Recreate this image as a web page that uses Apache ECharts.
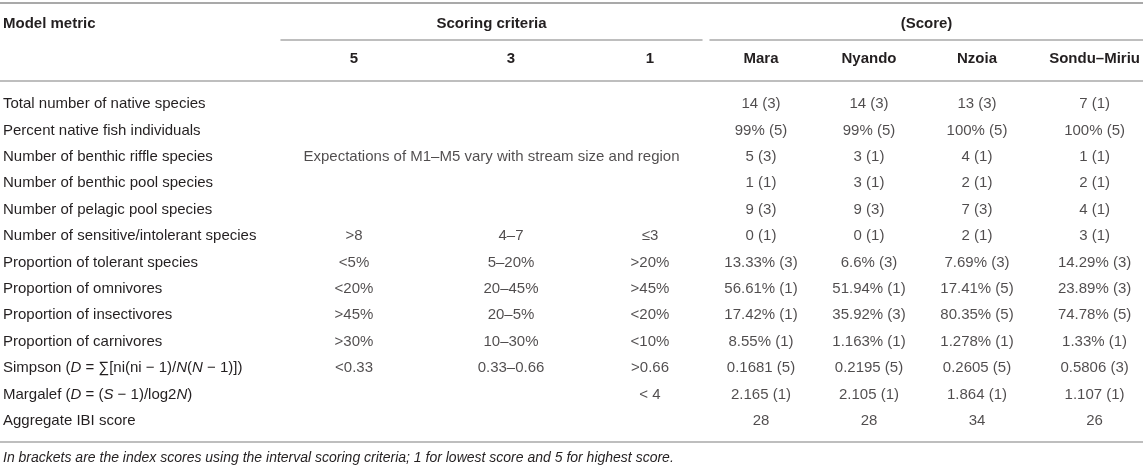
<!DOCTYPE html>
<html>
<head>
<meta charset="utf-8">
<script src="https://cdn.jsdelivr.net/npm/echarts@6/dist/echarts.min.js"></script>
<style>
  html, body { margin: 0; padding: 0; background: #fff; }
  #main { width: 1143px; height: 468px; }
</style>
</head>
<body>
<div id="main"></div>
<script>
// 表格数据
var rows = [
    'Total number of native species',
    'Percent native fish individuals',
    'Number of benthic riffle species',
    'Number of benthic pool species',
    'Number of pelagic pool species',
    'Number of sensitive/intolerant species',
    'Proportion of tolerant species',
    'Proportion of omnivores',
    'Proportion of insectivores',
    'Proportion of carnivores',
    'Simpson ({i|D} = ∑[ni(ni − 1)/{i|N}({i|N} − 1)])',
    'Margalef ({i|D} = ({i|S} − 1)/log2{i|N})',
    'Aggregate IBI score'
];
var critHeads = ['5', '3', '1'];
var crit5 = ['', '', '', '', '', '>8', '<5%', '<20%', '>45%', '>30%', '<0.33', '', ''];
var crit3 = ['', '', '', '', '', '4–7', '5–20%', '20–45%', '20–5%', '10–30%', '0.33–0.66', '', ''];
var crit1 = ['', '', '', '', '', '≤3', '>20%', '>45%', '<20%', '<10%', '>0.66', '< 4', ''];
var riverHeads = ['Mara', 'Nyando', 'Nzoia', 'Sondu–Miriu'];
var mara   = ['14 (3)', '99% (5)', '5 (3)', '1 (1)', '9 (3)', '0 (1)', '13.33% (3)', '56.61% (1)', '17.42% (1)', '8.55% (1)', '0.1681 (5)', '2.165 (1)', '28'];
var nyando = ['14 (3)', '99% (5)', '3 (1)', '3 (1)', '9 (3)', '0 (1)', '6.6% (3)', '51.94% (1)', '35.92% (3)', '1.163% (1)', '0.2195 (5)', '2.105 (1)', '28'];
var nzoia  = ['13 (3)', '100% (5)', '4 (1)', '2 (1)', '7 (3)', '2 (1)', '7.69% (3)', '17.41% (5)', '80.35% (5)', '1.278% (1)', '0.2605 (5)', '1.864 (1)', '34'];
var sondu  = ['7 (1)', '100% (5)', '1 (1)', '2 (1)', '4 (1)', '3 (1)', '14.29% (3)', '23.89% (3)', '74.78% (5)', '1.33% (1)', '0.5806 (3)', '1.107 (1)', '26'];
var spanNote = 'Expectations of M1–M5 vary with stream size and region';
var spanRow = 2;
var groupHeads = ['Scoring criteria', '(Score)'];
var firstHead = 'Model metric';
var footNote = 'In brackets are the index scores using the interval scoring criteria; 1 for lowest score and 5 for highest score.';

var heads = critHeads.concat(riverHeads);
var cols = [crit5, crit3, crit1, mara, nyando, nzoia, sondu];

// 版式
var FONT = '"Liberation Sans", Arial, Helvetica, sans-serif';
var INK = '#231f20';
var RULE = '#a9a9a9';
var SIZE = 15;
var TOP = 91, HEIGHT = 343;
var colCenters = [354, 511, 650, 761, 869, 977, 1097];
var spans = [[281, 421], [710, 433]];

var grids = [], xAxes = [], yAxes = [], series = [];

function rowAxis(gi, showLabel) {
    return {
        type: 'category', gridIndex: gi, data: rows, inverse: true,
        axisLine: {show: false}, axisTick: {show: false}, splitLine: {show: false},
        axisLabel: showLabel ? {
            inside: true, margin: 0, align: 'left',
            color: INK, fontSize: SIZE, fontFamily: FONT,
            rich: {i: {fontStyle: 'italic', color: INK, fontSize: SIZE, fontFamily: FONT}}
        } : {show: false}
    };
}

function cellSeries(gi, list) {
    var data = [];
    list.forEach(function (v, i) {
        if (v !== '') data.push([0, i, v]);
    });
    return {
        type: 'scatter', xAxisIndex: gi, yAxisIndex: gi, symbolSize: 0, silent: true,
        data: data,
        label: {
            show: true, position: 'inside', color: INK, fontSize: SIZE, fontFamily: FONT,
            formatter: function (p) { return p.data[2]; }
        }
    };
}

// 第一列: 指标名
grids.push({left: 3, top: TOP, width: 270, height: HEIGHT});
xAxes.push({type: 'category', gridIndex: 0, data: [''], show: false});
yAxes.push(rowAxis(0, true));

// 各数值列
cols.forEach(function (list, k) {
    var gi = grids.length;
    grids.push({left: colCenters[k] - 50, top: TOP, width: 100, height: HEIGHT});
    xAxes.push({
        type: 'category', gridIndex: gi, position: 'top', data: [heads[k]],
        axisLine: {show: false}, axisTick: {show: false},
        axisLabel: {margin: 32, verticalAlign: 'middle', fontWeight: 'bold', color: INK, fontSize: SIZE, fontFamily: FONT}
    });
    yAxes.push(rowAxis(gi, false));
    series.push(cellSeries(gi, list));
});

// 分组表头 + 下划线
spans.forEach(function (s, k) {
    var gi = grids.length;
    grids.push({left: s[0], top: TOP, width: s[1], height: HEIGHT});
    xAxes.push({
        type: 'category', gridIndex: gi, position: 'top', offset: 51, data: [''],
        axisLine: {show: true, lineStyle: {color: RULE, width: 1.5}},
        axisTick: {show: false}, axisLabel: {show: false},
        name: groupHeads[k], nameLocation: 'middle', nameGap: 9,
        nameTextStyle: {fontWeight: 'bold', color: INK, fontSize: SIZE, fontFamily: FONT}
    });
    yAxes.push(rowAxis(gi, false));
    if (k === 0) {
        var note = rows.map(function (r, i) { return i === spanRow ? spanNote : ''; });
        series.push(cellSeries(gi, note));
    }
});

var myChart = echarts.init(document.getElementById('main'));
var option = {
    animation: false,
    backgroundColor: '#fff',
    title: [
        {text: firstHead, left: 3, top: 16, padding: 0,
            textStyle: {fontWeight: 'bold', color: INK, fontSize: SIZE, fontFamily: FONT}},
        {text: footNote, left: 3, top: 451, padding: 0,
            textStyle: {fontWeight: 'normal', fontStyle: 'italic', color: INK, fontSize: 14, fontFamily: FONT}}
    ],
    grid: grids,
    xAxis: xAxes,
    yAxis: yAxes,
    series: series,
    graphic: [
        {type: 'line', shape: {x1: 0, y1: 3, x2: 1143, y2: 3}, style: {stroke: RULE, lineWidth: 2}},
        {type: 'line', shape: {x1: 0, y1: 81, x2: 1143, y2: 81}, style: {stroke: RULE, lineWidth: 1.5}},
        {type: 'line', shape: {x1: 0, y1: 442, x2: 1143, y2: 442}, style: {stroke: RULE, lineWidth: 1.5}}
    ]
};
myChart.setOption(option);
</script>
</body>
</html>
